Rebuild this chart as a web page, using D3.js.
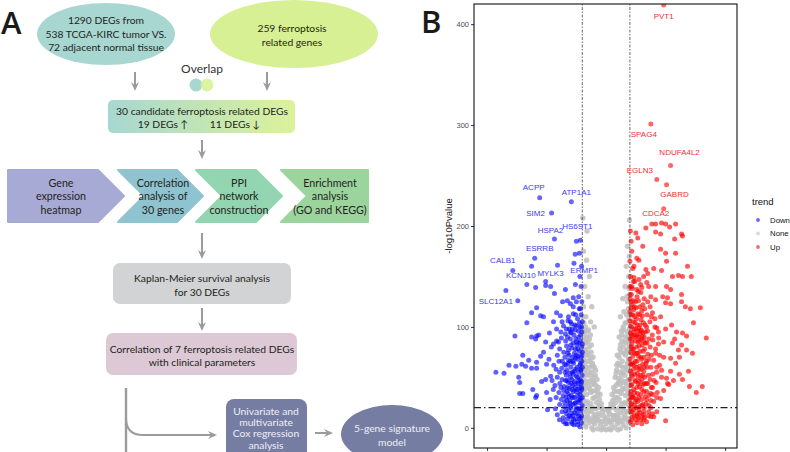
<!DOCTYPE html>
<html><head><meta charset="utf-8">
<script src="https://cdn.jsdelivr.net/npm/d3@7"></script>
<style>body{margin:0;background:#fff}svg{display:block}</style>
</head><body><svg id="c" width="790" height="452"></svg>
<script>
// ---------------- DATA ----------------
// Panel A flowchart texts
const ellipseTexts1 = ["1290 DEGs  from", "538 TCGA-KIRC tumor VS.", "72 adjacent normal tissue"];
const ellipseTexts2 = ["259 ferroptosis", "related genes"];
const candidateTexts = ["30 candidate ferroptosis related DEGs", "19 DEGs \u2191", "11 DEGs \u2193"];
const chevronTexts = [["Gene","expression","heatmap"],["Correlation","analysis of","30 genes"],["PPI","network","construction"],["Enrichment","analysis","(GO and KEGG)"]];
const kmTexts = ["Kaplan-Meier survival analysis", "for 30 DEGs"];
const clinTexts = ["Correlation of 7 ferroptosis related DEGs", "with clinical parameters"];
const coxTexts = ["Univariate and", "multivariate", "Cox regression", "analysis"];
const sigTexts = ["5-gene signature", "model"];

// Panel B volcano: [log2FC, -log10Pvalue]
const yTicks = [0, 100, 200, 300, 400];
const xTicks = [-5, -2.5, 0, 2.5, 5];
const fcCut = 1, pCut = 20;
const legendTrend = ["Down", "None", "Up"];

const downGenes = [["ACPP",-2.79,228],["ATP1A1",-1.46,224],["SIM2",-2.29,213],["HS6ST1",-1.25,185],["HSPA2",-2.17,187],["ESRRB",-3.0,168],["CALB1",-3.92,156],["KCNJ10",-3.33,142],["MYLK3",-2.04,161],["ERMP1",-1.3,172],["SLC12A1",-3.71,126]];
const upGenes = [["PVT1",2.42,419],["SPAG4",1.88,301],["NDUFA4L2",2.71,260],["EGLN3",2.13,246],["GABRD",2.54,241],["CDCA2",2.42,217]];

const downPts = [
[-3.13,160],[-1.35,163],[-4.21,136],[-2.54,145],[-2.54,141],[-2.33,140],[-2.96,139],[-1.71,137],[-2.17,133],[-1.29,142],
[-1.83,125],[-1.63,126],[-1.5,123],[-1.38,129],[-1.25,125],[-1.13,118],[-2.92,119],[-3.13,114],[-2.75,111],[-2.63,110],
[-3.33,104],[-2.08,114],[-1.92,111],[-1.58,110],[-1.38,113],[-2.21,105],[-1.79,101],[-1.5,105],[-1.25,101],[-2.08,98],
[-1.67,98],[-3.83,91],[-3.13,90],[-2.92,91],[-2.96,88],[-2.83,92],[-2.38,94],[-2.54,85],[-2.21,83],[-2.08,86],
[-1.88,89],[-1.71,93],[-1.5,95],[-3.5,72],[-3.25,67],[-4.08,62],[-3.79,61],[-3.54,63],[-3.38,61],[-2.92,65],
[-2.75,71],[-2.63,75],[-2.5,63],[-4.63,55],[-4.29,54],[-3.67,50],[-3.63,45],[-3.13,59],[-2.92,59],[-2.71,46],
[-2.54,48],[-2.33,51],[-3.08,38],[-3.63,34],[-3.5,34],[-2.96,30],[-2.92,32],[-2.5,35],[-2.46,18],[-2.13,19],
[-1.96,8],[-1.79,6],[-1.42,4],
[-1.05,112],[-1.2,108],[-1.45,103],[-1.1,100],[-1.6,106],[-1.3,97],
[-1.02,95],[-1.15,90],[-1.35,92],[-1.5,88],[-1.7,86],[-1.25,85],[-1.08,86],[-1.9,95],[-1.42,98],
[-1.03,80],[-1.12,76],[-1.22,82],[-1.33,74],[-1.44,79],[-1.55,72],[-1.66,81],[-1.78,75],[-1.95,78],[-2.05,72],[-1.18,71],[-1.05,70],[-1.4,70],[-2.3,80],
[-1.02,66],[-1.1,62],[-1.2,68],[-1.28,58],[-1.37,64],[-1.48,60],[-1.57,67],[-1.65,57],[-1.75,63],[-1.86,59],[-1.98,66],[-2.1,58],[-2.2,62],[-1.15,55],[-1.42,55],[-1.06,57],[-2.4,68],
[-1.01,52],[-1.09,48],[-1.17,44],[-1.25,51],[-1.33,46],[-1.41,42],[-1.5,50],[-1.58,45],[-1.67,52],[-1.76,41],[-1.85,48],[-1.94,44],[-2.05,50],[-2.15,42],[-2.27,47],[-1.12,40],[-1.38,53],[-1.62,40],[-1.05,44],
[-1.02,38],[-1.1,33],[-1.18,28],[-1.26,36],[-1.34,30],[-1.43,38],[-1.52,27],[-1.6,34],[-1.69,30],[-1.78,37],[-1.88,28],[-1.98,35],[-2.1,30],[-2.22,38],[-1.14,25],[-1.46,32],[-1.74,25],[-1.06,29],[-2.35,28],
[-1.01,22],[-1.08,17],[-1.16,12],[-1.24,20],[-1.32,15],[-1.4,23],[-1.49,11],[-1.57,18],[-1.66,14],[-1.75,21],[-1.85,16],[-1.95,23],[-2.05,13],[-1.12,9],[-1.36,8],[-1.62,9],[-1.03,12],[-1.28,25],[-1.52,24],
[-1.04,5],[-1.2,3],[-1.45,6],[-1.1,1],[-1.7,4],
[-1.02,125],[-1.08,118],[-1.15,130],[-1.05,140],[-1.1,150],[-1.03,160],[-1.08,186],[-1.12,173],
[-1.07,92],[-1.27,88],[-1.47,94],[-1.62,90],[-1.0,83],[-1.19,78],[-1.38,84],[-1.58,77],[-1.73,70],[-1.3,69],[-1.5,66],[-1.08,64],[-1.68,62],[-1.22,60],[-1.44,48],[-1.03,46],[-1.2,50],[-1.7,47],[-1.55,39],[-1.3,40],[-1.09,36],[-1.65,36],[-1.4,30],[-1.2,32],[-1.58,22],[-1.8,32],[-1.27,18],[-1.45,15],[-1.05,19],[-1.7,17],[-1.2,6],[-1.56,12],[-1.35,3],[-1.0,30],[-1.0,60],[-1.0,75],[-1.0,105],[-1.12,104],[-1.28,112],[-1.38,120],
[-1.03,100],[-1.16,96],[-1.31,102],[-1.55,98],[-1.14,84],[-1.29,78],[-1.48,82],[-1.61,74],[-1.02,72],[-1.25,72],[-1.39,66],[-1.6,64],[-1.07,58],[-1.33,56],[-1.52,54],[-1.72,55],[-1.15,47],[-1.28,44],[-1.47,44],[-1.64,47],[-1.03,40],[-1.22,38],[-1.38,36],[-1.55,31],[-1.1,27],[-1.32,24],[-1.48,20],[-1.65,27],[-1.14,19],[-1.22,14],[-1.4,12],[-1.63,4],[-1.06,10],[-1.3,9],[-1.8,10],[-1.9,40],[-1.84,66],[-1.95,55],[-2.0,85],[-1.85,105]
];

const upPts = [
[1.67,198],[1.92,202],[2.08,202],[2.33,203],[2.5,202],[2.67,199],[2.92,202],[1.25,193],[1.33,188],[2.08,194],
[2.29,192],[3.21,190],[2.88,187],[1.54,180],[2.29,177],[2.5,173],[2.92,173],[1.29,168],[1.38,166],[2.54,165],
[1.17,160],[1.67,157],[1.75,153],[2.0,158],[2.33,156],[3.42,160],[2.79,150],[3.04,151],[3.21,150],[3.58,150],
[1.17,149],[1.38,147],[1.58,150],[1.71,144],[1.79,140],[2.08,140],[2.54,140],[2.71,137],[1.08,140],[1.29,137],
[1.5,139],[3.17,132],[1.46,134],[1.88,130],[2.08,127],[2.38,130],[2.58,129],[3.33,120],[3.96,119],[2.5,124],
[2.71,123],[3.17,125],[3.54,118],[2.29,110],[3.67,104],[2.75,102],[2.13,99],[2.5,98],[2.96,95],[3.21,94],
[3.38,91],[4.21,89],[2.21,89],[2.42,85],[2.88,88],[2.79,84],[3.04,77],[2.08,74],[2.25,72],[2.42,70],
[3.63,74],[2.71,69],[3.08,70],[2.92,64],[2.13,60],[2.33,57],[2.71,56],[3.46,56],[2.33,50],[2.54,49],
[2.83,47],[3.21,48],[2.63,43],[3.5,41],[4.04,41],[3.79,35],[2.42,37],[2.13,30],[2.29,29],[1.88,27],
[2.5,7],[1.58,13],[1.88,11],[2.13,16],[3.17,192],[3.17,82],[3.38,77],[3.08,53],[2.58,44],[1.88,34],[1.79,16],[2.0,11],
[1.02,195],[1.05,185],[1.08,175],[1.0,165],[1.12,158],[1.03,150],[1.2,145],[1.1,138],[1.0,132],[1.3,130],[1.45,142],[1.6,128],
[1.01,128],[1.08,122],[1.16,117],[1.24,125],[1.33,113],[1.42,120],[1.52,111],[1.62,118],[1.72,112],[1.85,120],[1.95,114],[1.05,112],[1.2,110],[2.05,108],
[1.0,106],[1.07,100],[1.14,95],[1.22,104],[1.3,92],[1.38,99],[1.47,107],[1.55,94],[1.64,102],[1.74,96],[1.84,105],[1.94,92],[2.05,100],[1.1,91],[1.35,90],[1.6,90],[1.02,94],[1.26,98],[1.48,97],[2.2,95],
[1.01,88],[1.08,83],[1.15,78],[1.23,86],[1.31,74],[1.39,81],[1.47,88],[1.56,76],[1.65,84],[1.75,73],[1.85,80],[1.96,87],[2.08,78],[1.12,71],[1.36,71],[1.6,70],[1.04,75],[1.28,80],[1.52,82],[1.9,72],[2.2,83],
[1.0,68],[1.07,63],[1.15,58],[1.23,66],[1.31,54],[1.4,61],[1.49,68],[1.58,56],[1.68,64],[1.78,52],[1.88,60],[2.0,67],[2.12,55],[1.1,51],[1.35,50],[1.62,50],[1.03,56],[1.27,60],[1.54,63],[1.95,53],[2.25,62],
[1.01,48],[1.08,43],[1.16,38],[1.24,46],[1.32,34],[1.41,41],[1.5,48],[1.59,36],[1.69,44],[1.8,32],[1.9,40],[2.02,47],[2.15,35],[1.12,31],[1.37,30],[1.64,31],[1.04,36],[1.29,40],[1.56,43],[1.97,33],
[1.0,28],[1.07,23],[1.15,18],[1.23,26],[1.31,14],[1.4,21],[1.49,28],[1.58,16],[1.68,24],[1.78,12],[1.88,20],[2.0,26],[1.1,11],[1.35,10],[1.62,10],[1.03,16],[1.27,20],[1.54,23],[1.95,14],
[1.02,6],[1.12,3],[1.3,5],[1.5,4],[1.7,6],[1.08,8],
[1.05,125],[1.18,120],[1.36,126],[1.5,116],[1.13,105],[1.28,108],[1.42,102],[1.57,104],[1.09,87],[1.2,92],[1.34,85],[1.44,93],[1.58,86],[1.05,80],[1.18,74],[1.42,76],[1.3,66],[1.46,58],[1.12,64],[1.2,53],[1.44,52],[1.6,60],[1.05,42],[1.2,35],[1.35,44],[1.5,38],[1.08,30],[1.28,28],[1.45,33],[1.18,12],[1.42,15],[1.6,20],[1.02,20],[1.25,8],[1.5,12],[1.7,36],[1.72,60],[1.8,88],[1.7,100],[1.0,115],[1.0,140],
[1.06,132],[1.15,126],[1.26,119],[1.4,112],[1.55,122],[1.04,119],[1.12,112],[1.3,102],[1.45,96],[1.65,95],[1.02,101],[1.18,98],[1.33,96],[1.52,90],[1.72,84],[1.06,92],[1.25,90],[1.4,86],[1.62,78],[1.8,68],[1.1,78],[1.26,74],[1.45,70],[1.7,66],[1.03,63],[1.18,62],[1.37,58],[1.55,52],[1.75,44],[1.07,53],[1.22,47],[1.4,46],[1.6,44],[1.85,48],[1.03,33],[1.15,30],[1.33,26],[1.5,22],[1.7,28],[1.05,24],[1.2,22],[1.38,18],[1.58,8],[1.1,16],[1.3,12],[1.45,8],[1.8,22],[1.95,40],[2.1,45],[1.9,110],[1.75,125],[1.35,135],[1.15,145]
];

const nonePts = [
[-0.8,195],[-0.82,166],[-0.7,150],[-0.9,140],[-0.75,130],[-0.6,120],[-0.95,120],[-0.85,110],[-0.65,105],[-0.98,208],[-0.95,175],[-0.5,100],
[0.98,206],[0.9,180],[0.85,160],[0.95,150],[0.8,140],[0.7,128],[0.9,125],[0.6,110],[0.75,115],
[-0.98,98],[-0.9,95],[-0.82,90],[-0.74,97],[-0.95,87],[-0.78,85],[-0.66,92],
[-0.98,82],[-0.9,78],[-0.81,72],[-0.72,80],[-0.63,75],[-0.55,70],[-0.94,68],[-0.86,84],[-0.68,66],[-0.77,66],
[-0.97,62],[-0.88,58],[-0.79,52],[-0.7,60],[-0.61,55],[-0.52,50],[-0.44,57],[-0.93,48],[-0.84,46],[-0.66,47],[-0.38,48],[-0.57,62],
[-0.98,42],[-0.9,38],[-0.82,33],[-0.73,40],[-0.64,35],[-0.55,29],[-0.46,37],[-0.37,32],[-0.28,28],[-0.94,27],[-0.78,26],[-0.6,43],[-0.5,44],[-0.32,40],
[-0.97,22],[-0.88,18],[-0.79,13],[-0.7,21],[-0.61,16],[-0.52,11],[-0.43,19],[-0.34,14],[-0.25,20],[-0.16,16],[-0.93,10],[-0.66,8],[-0.2,24],[-0.1,12],
[-0.95,4],[-0.85,1],[-0.72,5],[-0.6,0],[-0.48,4],[-0.36,-1],[-0.24,3],[-0.12,0],[0.0,4],[0.12,-1],[0.24,3],[0.36,0],[0.48,4],[0.6,-1],[0.72,3],[0.84,0],[0.95,5],[-0.05,8],[0.05,10],[0.15,7],[-0.3,7],[0.3,8],[0.0,-2],[-0.2,-2],[0.2,-2],[-0.55,-2],[0.5,-2],
[0.97,22],[0.88,16],[0.79,12],[0.7,20],[0.61,15],[0.52,10],[0.43,18],[0.34,12],[0.25,20],[0.15,14],[0.93,9],[0.66,7],[0.2,24],[0.1,16],
[0.98,42],[0.9,37],[0.82,32],[0.73,39],[0.64,34],[0.55,28],[0.46,36],[0.37,30],[0.28,27],[0.94,27],[0.78,25],[0.6,43],[0.5,44],[0.32,40],
[0.97,63],[0.88,58],[0.79,52],[0.7,60],[0.61,55],[0.52,49],[0.44,57],[0.93,48],[0.84,46],[0.66,47],[0.38,50],[0.57,62],
[0.98,82],[0.9,78],[0.81,72],[0.72,80],[0.63,75],[0.55,70],[0.94,68],[0.86,84],[0.68,66],[0.47,72],[0.6,82],
[0.98,98],[0.9,95],[0.82,90],[0.74,97],[0.95,87],[0.78,85],[0.66,92],[0.96,108],[0.85,104],[0.55,90],
[-0.99,110],[-0.93,104],[-0.87,100],[-0.8,96],[-0.7,88],[-0.62,82],[-0.92,90],[-0.85,76],[-0.76,74],[-0.66,70],[-0.58,64],[-0.5,60],[-0.45,52],[-0.9,64],[-0.82,60],[-0.74,55],[-0.65,52],[-0.55,46],[-0.42,42],[-0.35,36],[-0.25,33],[-0.87,42],[-0.76,45],[-0.68,38],[-0.58,36],[-0.48,30],[-0.4,25],[-0.3,22],[-0.18,20],[-0.08,18],[-0.92,16],[-0.84,24],[-0.74,17],[-0.64,24],[-0.56,20],[-0.46,13],[-0.38,8],[-0.28,12],[-0.85,8],[-0.75,10],[-0.55,6],[-0.45,9],[-0.15,6],[-0.9,53],[-0.96,56],[-0.96,75],[-0.96,33],
[0.99,112],[0.93,118],[0.86,112],[0.8,104],[0.72,100],[0.64,96],[0.92,90],[0.85,76],[0.76,74],[0.66,86],[0.58,78],[0.5,64],[0.45,62],[0.42,54],[0.9,64],[0.82,60],[0.74,55],[0.65,52],[0.55,46],[0.42,42],[0.35,36],[0.25,33],[0.87,42],[0.76,45],[0.68,38],[0.58,36],[0.48,30],[0.4,25],[0.3,22],[0.18,20],[0.08,18],[0.92,16],[0.84,24],[0.74,17],[0.64,24],[0.56,20],[0.46,13],[0.38,8],[0.28,12],[0.85,8],[0.75,10],[0.55,6],[0.45,9],[0.15,6],[0.96,56],[0.96,75],[0.96,33],[0.88,130],[0.96,138],[0.98,170]
];

// ---------------- LAYOUT / STYLE ----------------
const labelOffset = {ACPP:[-6,-10],ATP1A1:[5,-9],SIM2:[-16,1],HS6ST1:[1,-15],HSPA2:[-4,-9],ESRRB:[5,-10],CALB1:[-10,-10],KCNJ10:[-6,-9],MYLK3:[-7,8],ERMP1:[9,16],SLC12A1:[-22,1],
  PVT1:[0,11],SPAG4:[-7,10],NDUFA4L2:[9,-13],EGLN3:[-17,-9],GABRD:[8,10],CDCA2:[-8,5]};
const FA = "Lato, 'Open Sans', sans-serif";
const FB = "'Liberation Sans', Arial, sans-serif";
const TXT = "#231F20";
const ARW = "#9B9B9B";
const FS = 10.3;

const svg = d3.select("#c");
const defs = svg.append("defs");
const grad = defs.append("linearGradient").attr("id","g30");
grad.append("stop").attr("offset","0%").attr("stop-color","#A7D7D1");
grad.append("stop").attr("offset","100%").attr("stop-color","#DCF29A");

function lines(g, arr, cx, y0, dy, size, color, weight){
  arr.forEach((t,i)=>g.append("text").attr("x",cx).attr("y",y0+i*dy).attr("text-anchor","middle")
    .attr("font-family",FA).attr("font-size",size).attr("fill",color||TXT).attr("font-weight",weight||400).text(t));
}
function arrowDown(x, y1, y2){
  svg.append("line").attr("x1",x).attr("x2",x).attr("y1",y1).attr("y2",y2-5).attr("stroke",ARW).attr("stroke-width",2);
  svg.append("path").attr("d",`M${x-4},${y2-9} L${x},${y2} L${x+4},${y2-9} L${x},${y2-6} Z`).attr("fill",ARW);
}
function arrowRight(x1, x2, y){
  svg.append("line").attr("x1",x1).attr("x2",x2-5).attr("y1",y).attr("y2",y).attr("stroke",ARW).attr("stroke-width",2);
  svg.append("path").attr("d",`M${x2-9},${y-4} L${x2},${y} L${x2-9},${y+4} L${x2-6},${y} Z`).attr("fill",ARW);
}

// ---------------- PANEL A ----------------
svg.append("text").attr("x",1).attr("y",34).attr("font-family","'Open Sans', sans-serif").attr("font-weight",600).attr("font-size",31).attr("fill","#1a1a1a").text("A");

svg.append("ellipse").attr("cx",106).attr("cy",34).attr("rx",69).attr("ry",31).attr("fill","#A8D7D1");
lines(svg, ellipseTexts1, 106, 24, 13.5, FS);
svg.append("ellipse").attr("cx",294).attr("cy",34).attr("rx",84).attr("ry",34).attr("fill","#D7F093");
lines(svg, ellipseTexts2, 292, 32, 13.5, FS);

lines(svg, ["Overlap"], 202, 73, 0, 12, "#333");
svg.append("circle").attr("cx",196).attr("cy",85).attr("r",6.5).attr("fill","#A8D7D1");
svg.append("circle").attr("cx",207).attr("cy",85).attr("r",6.5).attr("fill","#D7F093").attr("opacity",0.85);

arrowDown(135, 72, 91);
arrowDown(267, 72, 91);

svg.append("rect").attr("x",108).attr("y",100).attr("width",187).attr("height",33).attr("rx",5).attr("fill","url(#g30)");
lines(svg, [candidateTexts[0]], 202, 115, 0, FS);
lines(svg, [candidateTexts[1]], 163, 128, 0, FS);
lines(svg, [candidateTexts[2]], 235, 128, 0, FS);
arrowDown(202, 140, 159);

// chevrons
const chev = [
  {x0:8, xr:98, flatL:true, flatR:false, fill:"#A7AAD4", cx:61},
  {x0:118, xr:177, flatL:false, flatR:false, fill:"#8FC3D0", cx:163},
  {x0:196, xr:256, flatL:false, flatR:false, fill:"#93D4B1", cx:239},
  {x0:281, xr:368, flatL:false, flatR:true, fill:"#9CD49D", cx:330}
];
const cy0=170, cy1=222, cym=196, dep=26;
chev.forEach((c,i)=>{
  const pts=[[c.x0,cy0],[c.xr,cy0]];
  if(!c.flatR) pts.push([c.xr+dep,cym]);
  pts.push([c.xr,cy1],[c.x0,cy1]);
  if(!c.flatL) pts.push([c.x0+dep,cym]);
  svg.append("path").attr("d","M"+pts.map(p=>p.join(",")).join("L")+"Z").attr("fill",c.fill)
    .attr("stroke",c.fill).attr("stroke-width",2).attr("stroke-linejoin","round");
  lines(svg, chevronTexts[i], c.cx, 187, 13.3, FS+0.4);
});

arrowDown(202, 233, 259);
svg.append("rect").attr("x",113).attr("y",263).attr("width",178).attr("height",41).attr("rx",7).attr("fill","#D1D3D4");
lines(svg, kmTexts, 202, 282, 13.5, FS);
arrowDown(202, 308, 331);
svg.append("rect").attr("x",106).attr("y",333).attr("width",191).attr("height",42).attr("rx",7).attr("fill","#DDC9D5");
lines(svg, clinTexts, 202, 353, 12.5, FS);

// connector
svg.append("path").attr("d","M126,388 L126,460").attr("fill","none").attr("stroke",ARW).attr("stroke-width",2.4);
svg.append("path").attr("d","M126,418 Q126,435 143,435 L212,435").attr("fill","none").attr("stroke",ARW).attr("stroke-width",2);
svg.append("path").attr("d","M208,431 L217,435 L208,439 L211,435 Z").attr("fill",ARW);

svg.append("rect").attr("x",226).attr("y",399).attr("width",81).attr("height",70).attr("rx",8).attr("fill","#767DA3");
lines(svg, coxTexts, 266, 414.5, 11.4, FS, "#EEEEF5");
arrowRight(315, 333, 433);
svg.append("ellipse").attr("cx",392).attr("cy",434).attr("rx",51).attr("ry",29).attr("fill","#767DA3");
lines(svg, sigTexts, 392, 432, 14, FS, "#EEEEF5");

// ---------------- PANEL B ----------------
svg.append("text").attr("x",421).attr("y",33).attr("font-family","'Open Sans', sans-serif").attr("font-weight",600).attr("font-size",31).attr("fill","#1a1a1a").text("B");

const L=474, R=737, T=4, Bm=448;
const x = d3.scaleLinear().domain([-5.55,5.5]).range([L,R]);
const y = d3.scaleLinear().domain([-20,420]).range([Bm,T]);

defs.append("clipPath").attr("id","clip").append("rect").attr("x",L).attr("y",T).attr("width",R-L).attr("height",Bm-T);
const plot = svg.append("g").attr("clip-path","url(#clip)");

const COLS = {Down:"#0000FF", None:"#BEBEBE", Up:"#FF0000"};
function dots(data, col, op, r){
  plot.append("g").selectAll("circle").data(data).join("circle")
    .attr("cx",d=>x(d[0])).attr("cy",d=>y(d[1])).attr("r",r||2.5)
    .attr("fill",col).attr("fill-opacity",op);
}
dots(nonePts, COLS.None, 0.85, 2.7);
dots(downPts, COLS.Down, 0.62);
dots(downGenes.map(d=>[d[1],d[2]]), COLS.Down, 0.6);
dots(upPts, COLS.Up, 0.65);
dots(upGenes.map(d=>[d[1],d[2]]), COLS.Up, 0.6);

// threshold lines
[-fcCut, fcCut].forEach(v=>plot.append("line").attr("x1",x(v)).attr("x2",x(v)).attr("y1",T).attr("y2",Bm)
  .attr("stroke","#444").attr("stroke-width",0.8).attr("stroke-dasharray","1.5,1.5,3,1.5"));
plot.append("line").attr("x1",L).attr("x2",R).attr("y1",y(pCut)).attr("y2",y(pCut))
  .attr("stroke","#222").attr("stroke-width",1.3).attr("stroke-dasharray","7,3,1.5,3");

// labels
function labs(arr, col){
  arr.forEach(d=>{
    const o = labelOffset[d[0]];
    svg.append("text").attr("x",x(d[1])+o[0]).attr("y",y(d[2])+o[1]).attr("text-anchor","middle")
      .attr("dominant-baseline","central").attr("font-family",FB).attr("font-size",8).attr("fill",col).text(d[0]);
  });
}
labs(downGenes, "#3A3AF0");
labs(upGenes, "#F03030");

// axes (x tick labels fall below the visible frame in the reference)
const ay = svg.append("g").attr("transform",`translate(${L},0)`).call(d3.axisLeft(y).tickValues(yTicks).tickSize(3).tickPadding(2));
const ax = svg.append("g").attr("transform",`translate(0,${Bm})`).call(d3.axisBottom(x).tickValues(xTicks).tickSize(3).tickFormat(()=>""));
[ay,ax].forEach(a=>{a.select(".domain").remove(); a.selectAll("line").attr("stroke","#333");
  a.selectAll("text").attr("font-family",FB).attr("font-size",7.5).attr("fill","#4D4D4D");});
svg.append("rect").attr("x",L).attr("y",T).attr("width",R-L).attr("height",Bm-T).attr("fill","none").attr("stroke","#111").attr("stroke-width",1.1);

svg.append("text").attr("transform",`translate(452,226) rotate(-90)`).attr("text-anchor","middle")
  .attr("font-family",FB).attr("font-size",9.5).attr("fill","#111").text("-log10Pvalue");

// legend
svg.append("text").attr("x",752).attr("y",205).attr("font-family",FB).attr("font-size",9.5).attr("fill","#111").text("trend");
legendTrend.forEach((t,i)=>{
  const yy = 220 + i*13.5;
  svg.append("circle").attr("cx",758).attr("cy",yy).attr("r",1.9).attr("fill",COLS[t]).attr("fill-opacity",0.6);
  svg.append("text").attr("x",770).attr("y",yy).attr("dominant-baseline","central").attr("font-family",FB).attr("font-size",7.8).attr("fill","#111").text(t);
});
</script></body></html>
